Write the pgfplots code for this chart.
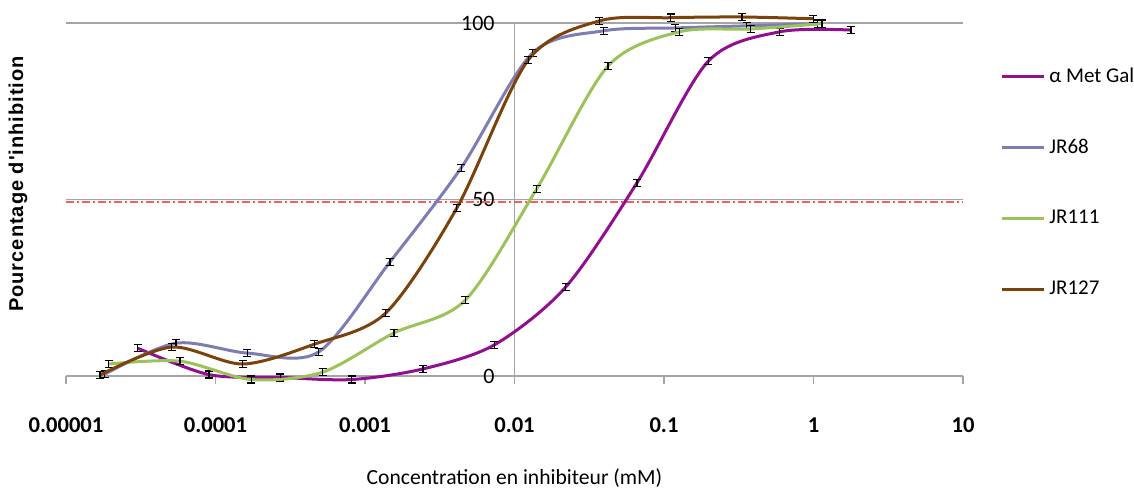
\documentclass[border=0pt]{standalone}
\usepackage{pgfplots}
\usepackage{pgfplotstable}
\pgfplotsset{compat=1.18}
\usepackage{fontspec}
\setmainfont{Carlito}
\newfontfamily\ylabfont[LetterSpace=5.0]{Liberation Sans}
\definecolor{metgal}{RGB}{145,15,145}
\definecolor{jrA}{RGB}{125,125,180}
\definecolor{jrB}{RGB}{155,195,90}
\definecolor{jrC}{RGB}{125,65,10}
\definecolor{gridgray}{RGB}{165,165,165}
\definecolor{reddash}{RGB}{255,90,90}

\pgfplotstableread{
x y
3.01e-5 7.9
9.04e-5 0.4
2.71e-4 -0.4
8.13e-4 -1.0
2.44e-3 2.0
7.32e-3 8.8
0.0220 25.2
0.0659 54.7
0.198 89.2
0.593 97.5
1.78 98.0
}\metgaltab

\pgfplotstableread{
x y
1.812e-5 0.5
5.436e-5 9.3
1.631e-4 6.5
4.892e-4 6.8
1.468e-3 32.3
4.403e-3 59.0
0.01321 91.5
0.03963 97.8
0.1189 98.6
0.3567 99.2
1.07 99.8
}\jrAtab

\pgfplotstableread{
x y
1.93e-5 3.4
5.79e-5 4.2
1.737e-4 -1.0
5.21e-4 1.1
1.564e-3 12.2
4.69e-3 21.5
0.01407 53.0
0.04222 87.8
0.1267 97.5
0.38 98.3
1.14 99.8
}\jrBtab

\pgfplotstableread{
x y
1.69e-5 0.3
5.08e-5 8.2
1.524e-4 3.4
4.57e-4 9.0
1.372e-3 17.8
4.115e-3 47.6
0.01235 89.5
0.037 100.6
0.111 101.5
0.333 101.7
1.0 101.2
}\jrCtab

\begin{document}
\begin{tikzpicture}
\begin{axis}[
  xmode=log, xmin=1e-5, xmax=10, ymin=0, ymax=100,
  scale only axis, width=448.5pt, height=176.5pt,
  clip=false,
  axis x line*=bottom, axis y line*=left,
  y axis line style={draw=none},
  x axis line style={gridgray, line width=0.8pt},
  xtick={1e-5,1e-4,1e-3,1e-2,1e-1,1,10},
  xticklabels={0.00001,0.0001,0.001,0.01,0.1,1,10},
  xminorticks=false,
  tick align=outside, major tick length=4pt,
  xtick style={gridgray, line width=0.8pt},
  ytick={0,50,100}, yticklabels={0,50,100},
  ytick style={draw=none},
  ymajorgrids, grid style={gridgray, line width=0.8pt},
  xticklabel style={font=\bfseries\fontsize{11.3}{13}\selectfont, inner sep=0pt, anchor=base, yshift=-24pt},
  yticklabel style={font=\fontsize{11}{12}\selectfont, inner sep=0pt, anchor=east, xshift=218.5pt},
  xlabel={Concentration en inhibiteur (mM)},
  ylabel={Pourcentage d'inhibition},
  every axis x label/.style={at={(rel axis cs:0.5,0)}, anchor=base, yshift=-54pt, font=\fontsize{10.8}{12}\selectfont},
  every axis y label/.style={at={(rel axis cs:-0.0535,0.544)}, rotate=90, anchor=center, font=\ylabfont\bfseries\fontsize{10}{12}\selectfont},
  legend style={at={(rel axis cs:1.0413,0.548)}, anchor=west, draw=none, fill=none, inner sep=0pt, row sep=23pt, font=\fontsize{10.5}{12}\selectfont, cells={anchor=west}},
  legend image code/.code={\draw[#1] (0pt,0pt) -- (21pt,0pt);},
  every axis plot/.append style={line width=1.5pt, smooth, no markers},
  error bars/y dir=both, error bars/y fixed=1.0,
  error bars/error bar style={black, line width=0.6pt, solid},
  error bars/error mark options={black, mark size=2pt, line width=0.7pt, rotate=90},
]
\coordinate (A) at (rel axis cs:0,0);
\draw[gridgray, line width=0.8pt] (axis cs:0.01,0) -- (axis cs:0.01,100);
\addplot[forget plot, reddash, line width=0.9pt, sharp plot, dash pattern=on 4pt off 1.5pt on 1pt off 1.5pt, error bars/y dir=none] coordinates {(1e-5,49.3) (10,49.3)};
\addplot[metgal] table[x=x,y=y] {\metgaltab};
\addlegendentry{α Met Gal}
\addplot[jrA] table[x=x,y=y] {\jrAtab};
\addlegendentry{JR68}
\addplot[jrB] table[x=x,y=y] {\jrBtab};
\addlegendentry{JR111}
\addplot[jrC] table[x=x,y=y] {\jrCtab};
\addlegendentry{JR127}
\end{axis}
\pgfresetboundingbox
\path (A) ++(-33pt,-59pt) rectangle ++(567pt,247pt);
\end{tikzpicture}
\end{document}
